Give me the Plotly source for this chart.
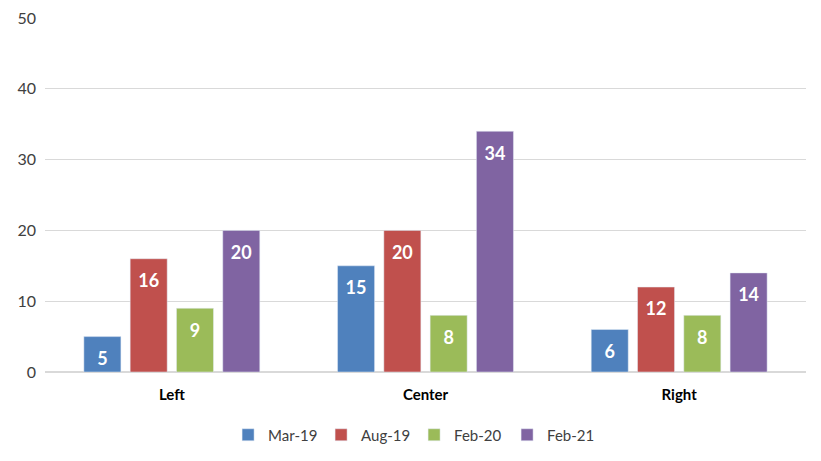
import plotly.graph_objects as go

categories = ["Left", "Center", "Right"]
series_names = ["Mar-19", "Aug-19", "Feb-20", "Feb-21"]
mar19 = [5, 15, 6]
aug19 = [16, 20, 12]
feb20 = [9, 8, 8]
feb21 = [20, 34, 14]
colors = ["#4F81BD", "#C0504D", "#9BBB59", "#8064A2"]

fig = go.Figure()
for name, vals, col in zip(series_names, [mar19, aug19, feb20, feb21], colors):
    fig.add_trace(go.Bar(
        x=categories, y=vals, name=name, marker_color=col,
    ))
for name, vals in zip(series_names, [mar19, aug19, feb20, feb21]):
    fig.add_trace(go.Scatter(
        x=categories, y=vals, mode="markers+text", text=[str(v) for v in vals],
        marker=dict(size=22, color="rgba(0,0,0,0)"),
        textposition="bottom center", showlegend=False, hoverinfo="skip",
        textfont=dict(color="white", size=18, family="Lato", weight="bold"),
        cliponaxis=False,
    ))

fig.update_layout(
    width=821, height=461,
    margin=dict(l=45, r=15, t=18, b=89, autoexpand=False),
    paper_bgcolor="white", plot_bgcolor="white",
    barmode="group", bargap=0.27, bargroupgap=0.2,
    scattermode="group", scattergap=0.27,
    font=dict(family="Lato", size=16, color="#404040"),
    xaxis=dict(showgrid=False, showline=False, ticks="", automargin=False,
               ticklabelstandoff=12,
               tickfont=dict(size=15, color="black", family="Lato", weight="bold")),
    yaxis=dict(range=[0, 50], dtick=10, showgrid=True, gridcolor="#D9D9D9",
               gridwidth=1, zeroline=True, zerolinecolor="#D9D9D9",
               showline=False, ticks="", ticklabelstandoff=8, automargin=False,
               tickfont=dict(size=16, color="#404040")),
    legend=dict(orientation="h", x=0.485, xanchor="center", y=-0.178,
                yanchor="middle", font=dict(size=15, color="#404040"),
                traceorder="normal", itemwidth=30,
                entrywidth=48, entrywidthmode="pixels"),
    showlegend=True,
)
fig.write_html("out.html", config={"displayModeBar": False},
               post_script="document.body.style.margin='0';")
